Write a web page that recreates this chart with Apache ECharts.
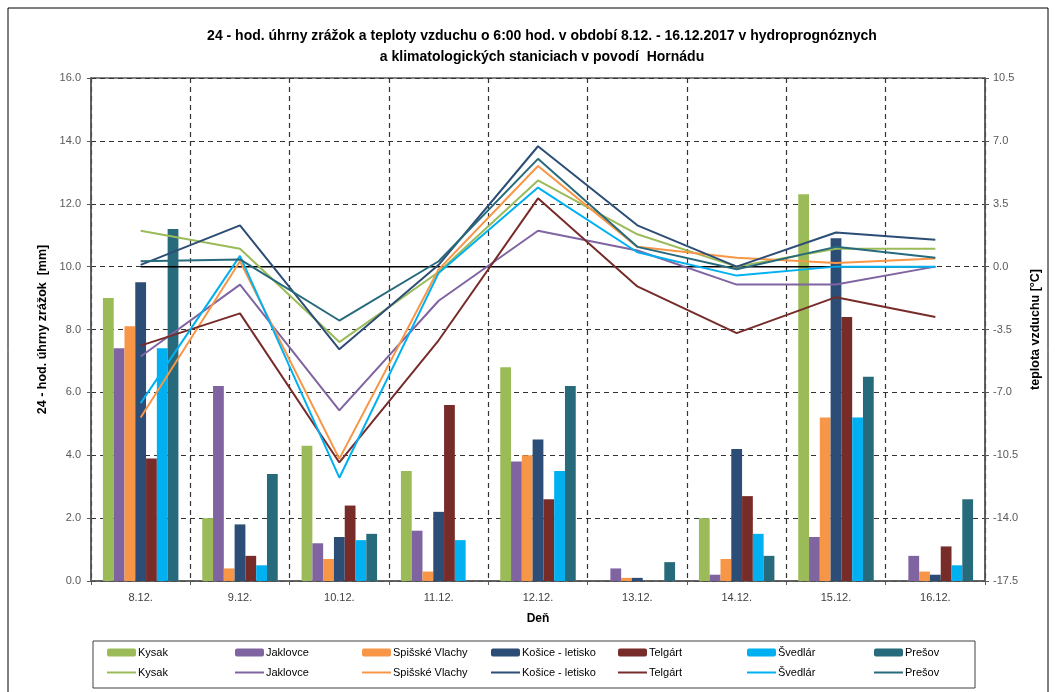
<!DOCTYPE html>
<html>
<head>
<meta charset="utf-8">
<script src="https://cdn.jsdelivr.net/npm/echarts@6/dist/echarts.min.js"></script>
<style>
  html, body { margin: 0; padding: 0; background: #fff; }
  #chart { width: 1056px; height: 692px; }
</style>
</head>
<body>
<div id="chart"></div>
<script>
// Dni merania
const dni = ['8.12.', '9.12.', '10.12.', '11.12.', '12.12.', '13.12.', '14.12.', '15.12.', '16.12.'];

// Stanice
const stanice = ['Kysak', 'Jaklovce', 'Spišské Vlachy', 'Košice - letisko', 'Telgárt', 'Švedlár', 'Prešov'];

// 24-hod. úhrny zrážok [mm]
const zrazkyKysak    = [9.0, 2.0, 4.3, 3.5, 6.8, 0.0, 2.0, 12.3, 0.0];
const zrazkyJaklovce = [7.4, 6.2, 1.2, 1.6, 3.8, 0.4, 0.2, 1.4, 0.8];
const zrazkySpisske  = [8.1, 0.4, 0.7, 0.3, 4.0, 0.1, 0.7, 5.2, 0.3];
const zrazkyKosice   = [9.5, 1.8, 1.4, 2.2, 4.5, 0.1, 4.2, 10.9, 0.2];
const zrazkyTelgart  = [3.9, 0.8, 2.4, 5.6, 2.6, 0.0, 2.7, 8.4, 1.1];
const zrazkySvedlar  = [7.4, 0.5, 1.3, 1.3, 3.5, 0.0, 1.5, 5.2, 0.5];
const zrazkyPresov   = [11.2, 3.4, 1.5, 0.0, 6.2, 0.6, 0.8, 6.5, 2.6];

// Teplota vzduchu o 6:00 hod. [°C]
const teplotaKysak    = [2.0, 1.0, -4.2, -0.3, 4.8, 1.8, 0.0, 1.0, 1.0];
const teplotaJaklovce = [-5.0, -1.0, -8.0, -1.9, 2.0, 0.9, -1.0, -1.0, 0.0];
const teplotaSpisske  = [-8.4, 0.3, -10.7, -0.15, 5.6, 1.1, 0.5, 0.2, 0.45];
const teplotaKosice   = [0.1, 2.3, -4.6, 0.1, 6.7, 2.3, 0.0, 1.9, 1.5];
const teplotaTelgart  = [-4.4, -2.6, -10.9, -4.1, 3.8, -1.1, -3.7, -1.7, -2.8];
const teplotaSvedlar  = [-7.6, 0.6, -11.75, -0.35, 4.4, 0.8, -0.5, 0.0, 0.0];
const teplotaPresov   = [0.3, 0.4, -3.0, 0.3, 6.0, 1.1, -0.15, 1.1, 0.5];

// Nulová čiara teploty
const nulovaCiara = [0, 0, 0, 0, 0, 0, 0, 0, 0];

const farby = ['#9BBB59', '#8064A2', '#F79646', '#2C4D75', '#772C2A', '#00B0F0', '#276A7C'];

const zrazky = [zrazkyKysak, zrazkyJaklovce, zrazkySpisske, zrazkyKosice, zrazkyTelgart, zrazkySvedlar, zrazkyPresov];
const teploty = [teplotaKysak, teplotaJaklovce, teplotaSpisske, teplotaKosice, teplotaTelgart, teplotaSvedlar, teplotaPresov];

// Line series names carry a zero-width suffix so legends can tell them apart from bars
const ZW = '\u200b';

const FONT = 'Liberation Sans Narrow, Liberation Sans, Arial, sans-serif';

const series = [];
stanice.forEach((s, i) => {
  series.push({
    name: s,
    type: 'bar',
    yAxisIndex: 0,
    data: zrazky[i],
    itemStyle: { color: farby[i] },
    barGap: '0%',
    barCategoryGap: '24%',
    z: 2
  });
});
series.push({
  name: 'nula',
  type: 'line',
  yAxisIndex: 1,
  data: nulovaCiara,
  symbol: 'none',
  silent: true,
  lineStyle: { color: '#000', width: 1.5 },
  z: 3
});
stanice.forEach((s, i) => {
  series.push({
    name: s + ZW,
    type: 'line',
    yAxisIndex: 1,
    data: teploty[i],
    symbol: 'none',
    lineStyle: { color: farby[i], width: 2 },
    itemStyle: { color: farby[i] },
    z: 4
  });
});

// One two-row legend column per station (bar above, line below)
const legendLeft = [106, 234, 361, 490, 617, 746, 873];
const legends = stanice.map((s, i) => ({
  left: legendLeft[i],
  top: 647,
  orient: 'vertical',
  padding: 0,
  itemGap: 9,
  itemWidth: 29,
  itemHeight: 8,
  selectedMode: false,
  data: [
    { name: s },
    { name: s + ZW, itemStyle: { opacity: 0 } }
  ],
  formatter: n => n.replace(ZW, ''),
  textStyle: { fontFamily: FONT, fontSize: 11, color: '#000', padding: [0, 0, 0, -3] }
}));

const chart = echarts.init(document.getElementById('chart'), null, { renderer: 'canvas' });
chart.setOption({
  backgroundColor: '#fff',
  animation: false,
  textStyle: { fontFamily: FONT },
  title: {
    text: '24 - hod. úhrny zrážok a teploty vzduchu o 6:00 hod. v období 8.12. - 16.12.2017 v hydroprognóznych\na klimatologických staniciach v povodí  Hornádu',
    left: 537,
    top: 21,
    textAlign: 'center',
    textStyle: { fontFamily: FONT, fontSize: 14, fontWeight: 'bold', color: '#000', lineHeight: 21 }
  },
  legend: legends,
  grid: {
    left: 91, right: 71, top: 78, bottom: 111,
    show: true, borderColor: '#595959', borderWidth: 1.5, backgroundColor: 'transparent'
  },
  xAxis: {
    type: 'category',
    data: dni,
    boundaryGap: true,
    name: 'Deň',
    nameLocation: 'middle',
    nameGap: 32,
    nameTextStyle: { fontFamily: FONT, fontSize: 12, fontWeight: 'bold', color: '#000' },
    axisLine: { lineStyle: { color: '#595959', width: 1.5 } },
    axisTick: { show: true, length: 4, lineStyle: { color: '#595959' } },
    axisLabel: { color: '#404040', fontSize: 11, margin: 11 },
    splitLine: { show: true, lineStyle: { color: '#333', type: [5, 4], width: 1.2 } }
  },
  yAxis: [
    {
      type: 'value',
      min: 0, max: 16, interval: 2,
      name: '24 - hod. úhrny zrážok  [mm]',
      nameLocation: 'middle',
      nameRotate: 90,
      nameGap: 38,
      nameTextStyle: { fontFamily: FONT, fontSize: 12.5, fontWeight: 'bold', color: '#000' },
      axisLine: { show: true, lineStyle: { color: '#595959', width: 1.5 } },
      axisTick: { show: true, length: 4, lineStyle: { color: '#595959' } },
      axisLabel: { color: '#595959', fontSize: 11, margin: 10, formatter: v => v.toFixed(1) },
      splitLine: { show: true, lineStyle: { color: '#333', type: [5, 4], width: 1.2 } }
    },
    {
      type: 'value',
      min: -17.5, max: 10.5, interval: 3.5,
      position: 'right',
      name: 'teplota vzduchu [°C]',
      nameLocation: 'middle',
      nameRotate: 90,
      nameGap: 40,
      nameTextStyle: { fontFamily: FONT, fontSize: 12.5, fontWeight: 'bold', color: '#000' },
      axisLine: { show: true, lineStyle: { color: '#595959', width: 1.5 } },
      axisTick: { show: true, length: 4, lineStyle: { color: '#595959' } },
      axisLabel: { color: '#595959', fontSize: 11, margin: 8, formatter: v => v.toFixed(1) },
      splitLine: { show: false }
    }
  ],
  graphic: [
    {
      type: 'rect',
      shape: { x: 8, y: 8, width: 1040, height: 720 },
      style: { fill: 'none', stroke: '#000', lineWidth: 1 },
      silent: true, z: -10
    },
    {
      type: 'rect',
      shape: { x: 93, y: 641, width: 882, height: 47 },
      style: { fill: 'none', stroke: '#404040', lineWidth: 1 },
      silent: true, z: -10
    }
  ],
  series: series
});
</script>
</body>
</html>
